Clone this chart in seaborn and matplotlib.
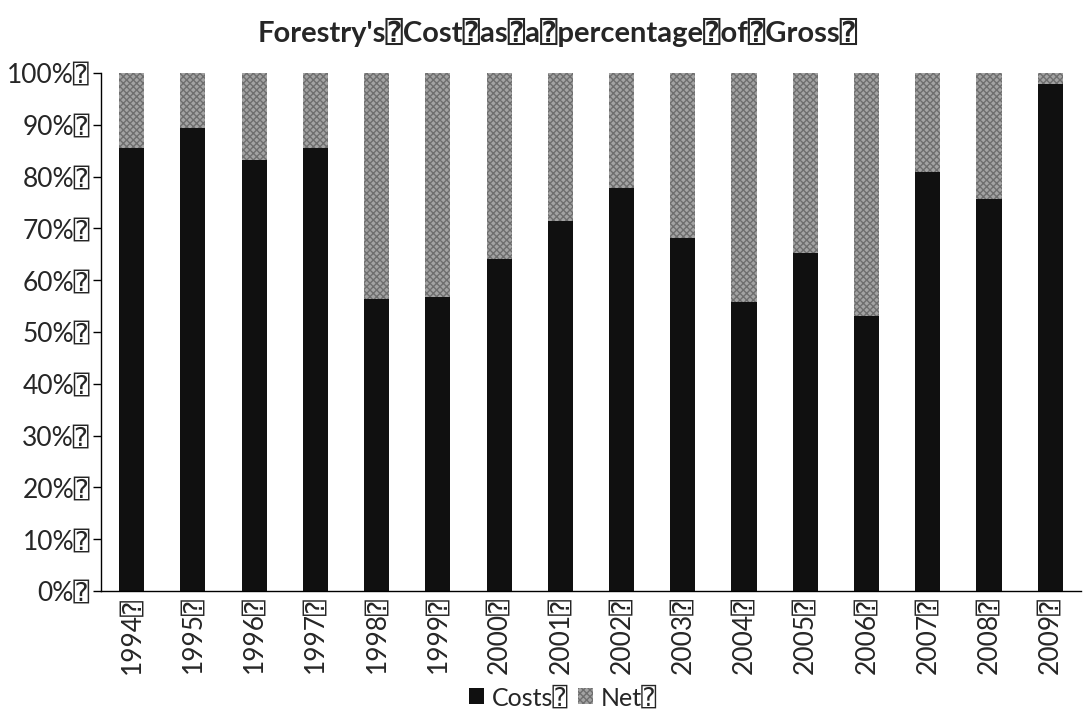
import matplotlib
matplotlib.use("Agg")
import matplotlib.pyplot as plt
import seaborn as sns
import pandas as pd
import numpy as np
from matplotlib.patches import Patch

BOX = "\u2370"

years = ["1994", "1995", "1996", "1997", "1998", "1999", "2000", "2001",
         "2002", "2003", "2004", "2005", "2006", "2007", "2008", "2009"]
costs = [85.5, 89.4, 83.2, 85.5, 56.4, 56.7, 64.0, 71.5,
         77.8, 68.1, 55.7, 65.3, 53.0, 80.9, 75.7, 97.8]
net = [100 - c for c in costs]
y_ticks = [0, 10, 20, 30, 40, 50, 60, 70, 80, 90, 100]

df = pd.DataFrame({"year": years, "costs": costs, "net": net})
df["total"] = df["costs"] + df["net"]

sns.set_style("white")
# the box sign only lives in the mono family
plt.rcParams["font.family"] = ["Lato", "DejaVu Sans Mono", "DejaVu Sans"]

fig = plt.figure(figsize=(10.83, 7.19), dpi=100)
ax = fig.add_axes([0.0933, 0.178, 0.9047, 0.7205])

# full stack first (net colour), then costs over it
sns.barplot(data=df, x="year", y="total", color="#a3a3a3", width=0.41,
            saturation=1, ax=ax, edgecolor="none")
for p in ax.patches:
    p.set_hatch("xxxxx")
    p.set_edgecolor("#6e6e6e")
    p.set_linewidth(0)
sns.barplot(data=df, x="year", y="costs", color="#101010", width=0.41,
            saturation=1, ax=ax, edgecolor="none")

ax.set_xlim(-0.5, len(years) - 0.5)
ax.set_ylim(0, 100)
ax.set_yticks(y_ticks)
ax.set_yticklabels([f"{t}%{BOX}" for t in y_ticks], fontsize=19)
ax.set_xticks(range(len(years)))
ax.set_xticklabels([y + BOX for y in years], rotation=90, fontsize=19)
ax.set_xticks(np.arange(-0.5, len(years), 1.0), minor=True)
ax.tick_params(axis="x", which="major", length=0, pad=4)
ax.tick_params(axis="x", which="minor", length=6, width=1, direction="out", color="black")
ax.tick_params(axis="y", length=6, width=1, direction="out", color="black", left=True, pad=2)
ax.set_xlabel("")
ax.set_ylabel("")

for s in ["top", "right"]:
    ax.spines[s].set_visible(False)
for s in ["left", "bottom"]:
    ax.spines[s].set_color("black")
    ax.spines[s].set_linewidth(1)

fig.text(0.515, 0.955, f"Forestry's{BOX}Cost{BOX}as{BOX}a{BOX}percentage{BOX}of{BOX}Gross{BOX}",
         ha="center", va="center", fontsize=21, fontweight="bold")

handles = [Patch(facecolor="#101010", edgecolor="none", label="Costs" + BOX),
           Patch(facecolor="#a3a3a3", edgecolor="#6e6e6e", hatch="xxxxx", linewidth=0, label="Net" + BOX)]
fig.legend(handles=handles, loc="center", bbox_to_anchor=(0.52, 0.03), ncol=2,
           frameon=False, fontsize=18, handlelength=0.6, handleheight=0.6,
           handletextpad=0.3, columnspacing=0.4)

fig.savefig("out.png", dpi=100)
